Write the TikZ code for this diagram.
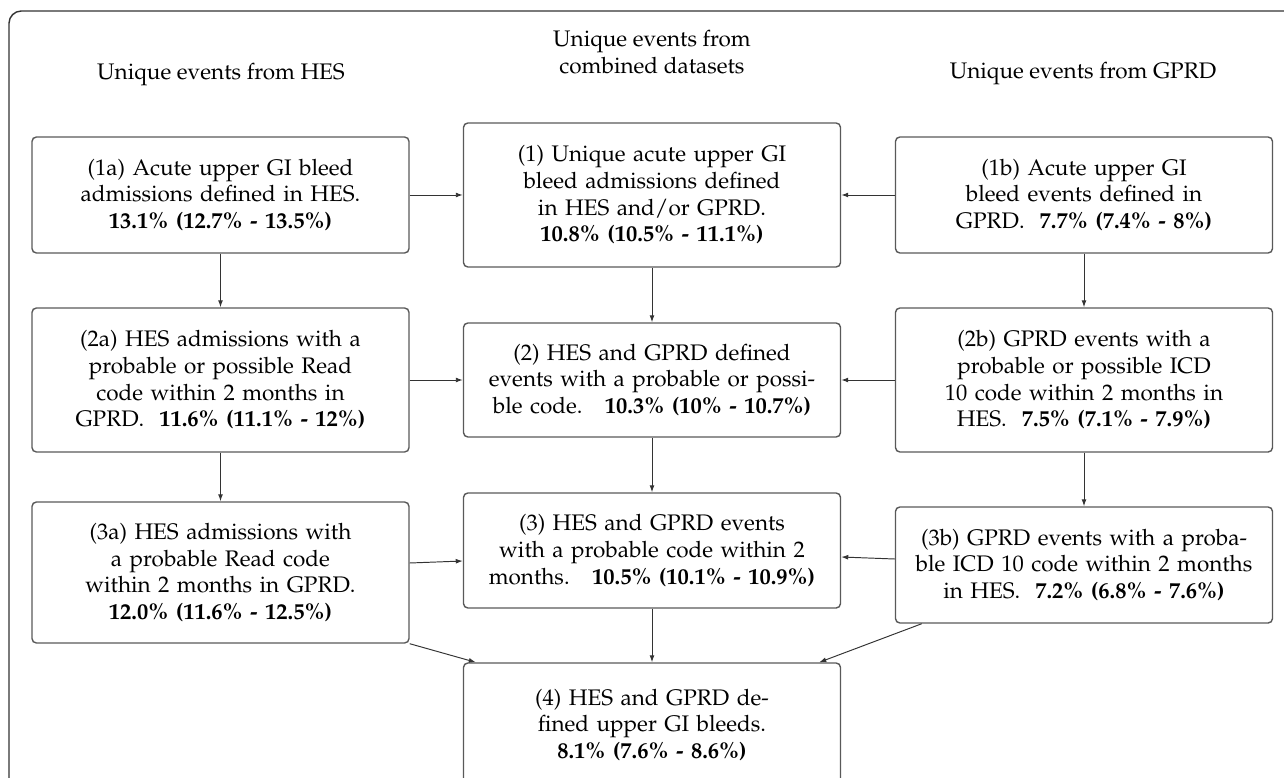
\documentclass[tikz,border=0pt]{standalone}
\usepackage[T1]{fontenc}
\usepackage{mathpazo}
\usetikzlibrary{arrows.meta}

\begin{document}
\begin{tikzpicture}[
	box/.style={draw=black!65,line width=.8pt,rounded corners=2.5pt,align=center,text width=7.14cm,inner xsep=.2cm,inner ysep=0pt,font=\fontsize{12.8}{15.2}\selectfont},
	head/.style={align=center,font=\fontsize{12.8}{15.2}\selectfont},
	arr/.style={draw=black!80,line width=.55pt,-{Latex[length=4pt,width=2.8pt]}}]
	\useasboundingbox (0,0) rectangle (25.68,-15.56);
	\clip (0,0) rectangle (25.68,-15.56);
	\draw[black!80,line width=.8pt,rounded corners=7pt] (.18,-.22) rectangle (26.3,-16.3);
	\node[head] (hhes) at (4.42,-1.5){Unique events from HES};
	\node[head] (hcomb) at (13.04,-1.04){Unique events from\\combined datasets};
	\node[head] (hgprd) at (21.66,-1.48){Unique events from GPRD};
	\node[box,minimum height=2.32cm] (ev1a) at (4.41,-3.9){(1a) Acute upper GI bleed\\admissions defined in HES.\\\textbf{13.1\% (12.7\% - 13.5\%)}};
	\node[box,minimum height=2.88cm] (ev1) at (13.04,-3.9){(1) Unique acute upper GI\\bleed admissions defined\\in HES and/or GPRD.\\\textbf{10.8\% (10.5\% - 11.1\%)}};
	\node[box,minimum height=2.32cm] (ev1b) at (21.68,-3.9){(1b) Acute upper GI\\bleed events defined in\\GPRD.~~\textbf{7.7\% (7.4\% - 8\%)}};
	\node[box,minimum height=2.88cm] (ev2a) at (4.41,-7.6){(2a) HES admissions with a\\probable or possible Read\\code within 2 months in\\GPRD.~~\textbf{11.6\% (11.1\% - 12\%)}};
	\node[box,minimum height=2.28cm] (ev2) at (13.04,-7.6){(2) HES and GPRD defined\\events with a probable or possi-\\ble code.\quad\textbf{10.3\% (10\% - 10.7\%)}};
	\node[box,minimum height=2.88cm] (ev2b) at (21.68,-7.6){(2b) GPRD events with a\\probable or possible ICD\\10 code within 2 months in\\HES.~~\textbf{7.5\% (7.1\% - 7.9\%)}};
	\node[box,minimum height=2.82cm] (ev3a) at (4.41,-11.45){(3a) HES admissions with\\a probable Read code\\within 2 months in GPRD.\\\textbf{12.0\% (11.6\% - 12.5\%)}};
	\node[box,minimum height=2.30cm] (ev3) at (13.04,-11.01){(3) HES and GPRD events\\with a probable code within 2\\months.\quad\textbf{10.5\% (10.1\% - 10.9\%)}};
	\node[box,minimum height=2.32cm] (ev3b) at (21.68,-11.3){(3b) GPRD events with a proba-\\ble ICD 10 code within 2 months\\in HES.~~\textbf{7.2\% (6.8\% - 7.6\%)}};
	\node[box,minimum height=2.48cm] (ev4) at (13.04,-14.5){(4) HES and GPRD de-\\fined upper GI bleeds.\\\textbf{8.1\% (7.6\% - 8.6\%)}};
	\draw[arr] (ev1a)--(ev1);
	\draw[arr] (ev1b)--(ev1);
	\draw[arr] (ev1a)--(ev2a);
	\draw[arr] (ev1)--(ev2);
	\draw[arr] (ev1b)--(ev2b);
	\draw[arr] (ev2a)--(ev2);
	\draw[arr] (ev2b)--(ev2);
	\draw[arr] (ev2a)--(ev3a);
	\draw[arr] (ev2)--(ev3);
	\draw[arr] (ev2b)--(ev3b);
	\draw[arr] ([yshift=.19cm]ev3a.east)--([yshift=-.21cm]ev3.west);
	\draw[arr] ([yshift=.12cm]ev3b.west)--([yshift=-.13cm]ev3.east);
	\draw[arr] (ev3)--(ev4);
	\draw[arr] (ev3a.south east)--([xshift=.26cm]ev4.north west);
	\draw[arr] ([xshift=.54cm]ev3b.south west)--([xshift=-.44cm]ev4.north east);
\end{tikzpicture}
\end{document}
